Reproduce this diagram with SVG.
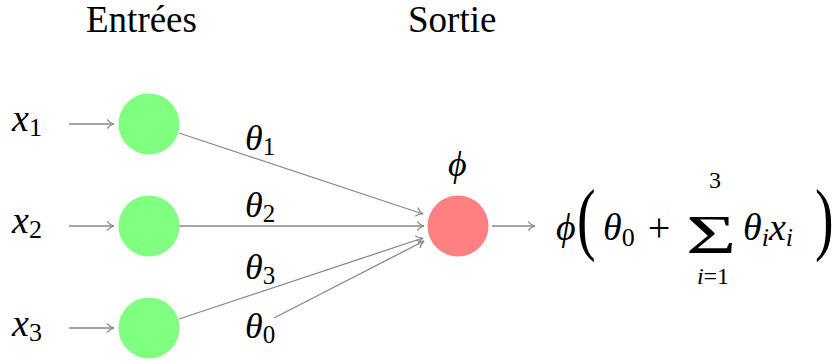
<svg xmlns="http://www.w3.org/2000/svg" width="839" height="362" viewBox="0 0 839 362">
<defs>
<marker id="ah" viewBox="-8 -5 9 10" refX="0" refY="0" markerWidth="9" markerHeight="10" markerUnits="userSpaceOnUse" orient="auto">
<path d="M-6.5,-4.2 C-4.5,-1.6 -1.8,-0.4 0,0 C-1.8,0.4 -4.5,1.6 -6.5,4.2" fill="none" stroke="#888" stroke-width="1.2" stroke-linecap="round"/>
</marker>
</defs>
<g id="headers">
<text font-family="Liberation Serif" x="86" y="32" font-size="37">Entrées</text>
<text font-family="Liberation Serif" x="408" y="32" font-size="37">Sortie</text>
</g>
<g id="labels-x">
<text font-family="Liberation Serif" font-style="italic" x="12" y="131" font-size="38">x<tspan font-style="normal" font-size="26" dy="5">1</tspan></text>
<text font-family="Liberation Serif" font-style="italic" x="12" y="233" font-size="38">x<tspan font-style="normal" font-size="26" dy="5">2</tspan></text>
<text font-family="Liberation Serif" font-style="italic" x="12" y="336" font-size="38">x<tspan font-style="normal" font-size="26" dy="5">3</tspan></text>
</g>
<g id="connectors" stroke="#888" stroke-width="1.3" fill="none">
<line x1="69" y1="124" x2="114" y2="124" marker-end="url(#ah)"/>
<line x1="69" y1="226" x2="114" y2="226" marker-end="url(#ah)"/>
<line x1="69" y1="328" x2="114" y2="328" marker-end="url(#ah)"/>
<line x1="179" y1="133" x2="423" y2="214" marker-end="url(#ah)"/>
<line x1="179" y1="226" x2="424" y2="226" marker-end="url(#ah)"/>
<line x1="179" y1="319" x2="423" y2="238" marker-end="url(#ah)"/>
<line x1="274" y1="318" x2="424" y2="241" marker-end="url(#ah)"/>
<line x1="492" y1="226" x2="535" y2="226" marker-end="url(#ah)"/>
</g>
<g id="n1"><circle fill="#80ff80" cx="149" cy="124" r="30.5"/></g>
<g id="n2"><circle fill="#80ff80" cx="149" cy="226" r="30.5"/></g>
<g id="n3"><circle fill="#80ff80" cx="149" cy="328" r="30.5"/></g>
<g id="out"><circle fill="#ff8080" cx="458" cy="226" r="30.5"/></g>
<g id="weights">
<text font-family="Liberation Serif" font-style="italic" x="245" y="150" font-size="36">θ<tspan font-style="normal" font-size="25" dy="5">1</tspan></text>
<text font-family="Liberation Serif" font-style="italic" x="245" y="217" font-size="36">θ<tspan font-style="normal" font-size="25" dy="5">2</tspan></text>
<text font-family="Liberation Serif" font-style="italic" x="245" y="279" font-size="36">θ<tspan font-style="normal" font-size="25" dy="5">3</tspan></text>
<text font-family="Liberation Serif" font-style="italic" x="245" y="338" font-size="36">θ<tspan font-style="normal" font-size="25" dy="5">0</tspan></text>
<text font-family="Liberation Serif" font-style="italic" x="448" y="176" font-size="36">ϕ</text>
</g>
<g id="formula">
<text font-family="Liberation Serif" font-style="italic" x="556" y="240" font-size="38">ϕ</text>
<text font-family="Liberation Serif" transform="translate(577,245) scale(1.4,2)" x="0" y="0" font-size="40">(</text>
<text font-family="Liberation Serif" font-style="italic" x="603" y="240" font-size="38">θ<tspan font-style="normal" font-size="26" dy="6">0</tspan></text>
<text font-family="Liberation Serif" x="659" y="241" font-size="40" text-anchor="middle">+</text>
<text font-family="Liberation Serif" transform="translate(686,253) scale(1.6,1)" x="0" y="0" font-size="54">Σ</text>
<text font-family="Liberation Serif" x="715" y="188" font-size="24" text-anchor="middle">3</text>
<text font-family="Liberation Serif" x="713" y="284" font-size="24" text-anchor="middle"><tspan font-style="italic">i</tspan>=1</text>
<text font-family="Liberation Serif" font-style="italic" x="743" y="240" font-size="38">θ<tspan font-size="26" dy="6">i</tspan><tspan dy="-6">x</tspan><tspan font-size="26" dy="6">i</tspan></text>
<text font-family="Liberation Serif" transform="translate(815,245) scale(1.4,2)" x="0" y="0" font-size="40">)</text>
</g>
</svg>
